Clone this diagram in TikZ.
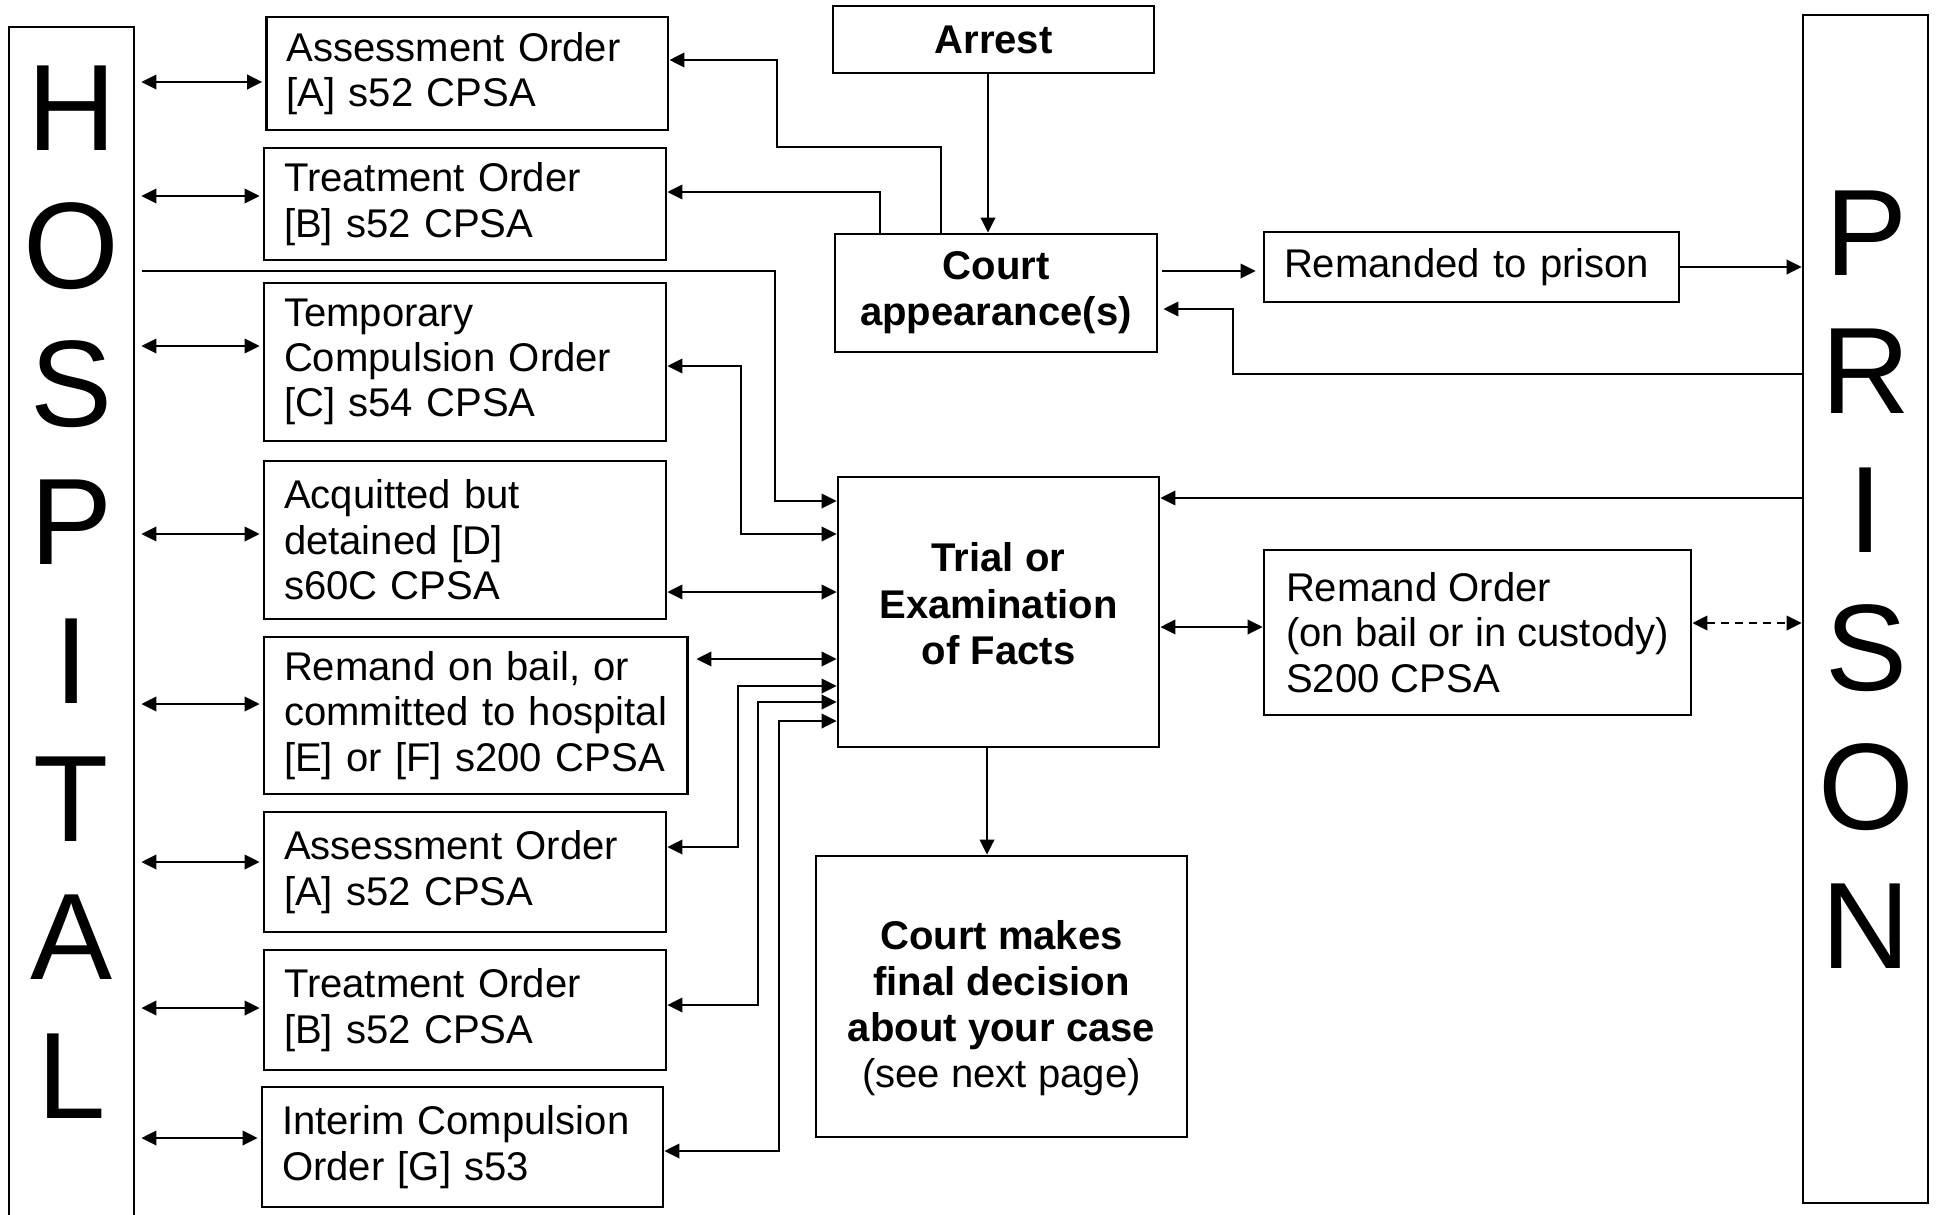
\documentclass[tikz,border=0pt]{standalone}
\usepackage{fontspec}
\setmainfont{Liberation Sans}
\usepackage{tikz}
\usetikzlibrary{arrows.meta,positioning,calc}
\newcommand{\boxfont}{\fontsize{11.4}{12.9}\selectfont}
\tikzstyle{arrow} = [-{Triangle[length=1.5mm,width=1.45mm]}, line width=0.65pt]
\tikzstyle{twoway} = [{Triangle[length=1.5mm,width=1.45mm]}-{Triangle[length=1.5mm,width=1.45mm]}, line width=0.65pt]
\tikzstyle{order} = [draw, line width=0.8pt, align=left, inner xsep=0.2cm, inner ysep=0pt, text width=3.62cm]
\tikzstyle{stage} = [draw, line width=0.8pt, align=center, inner sep=0pt, font=\fontsize{11.4}{13.1}\selectfont\bfseries]
\tikzstyle{side} = [draw, line width=0.8pt, minimum width=1.25cm, inner sep=0pt]
\tikzstyle{bigletter} = [font=\fontsize{35}{40}\selectfont, anchor=base, inner sep=0pt]

\begin{document}
\begin{tikzpicture}[font=\boxfont]
\clip (0,0) rectangle (19.38,12.14);

\node[side, minimum height=12.37cm] (hosp) at (0.715,5.685) {};
\node[side, minimum height=11.88cm] (prison) at (18.655,6.05) {};
\foreach \l [count=\i from 0] in {H,O,S,P,I,T,A,L}{
  \node[bigletter] (hospltr\i) at (0.715,{10.64-1.383*\i}) {\l};
}
\foreach \l [count=\i from 0] in {P,R,I,S,O,N}{
  \node[bigletter] (prisltr\i) at (18.66,{9.39-1.386*\i}) {\l};
}

\node[order, text width=3.615cm, minimum height=1.13cm] (asmtA) at (4.673,11.405) {Assessment Order\\{}[A] s52 CPSA};
\node[order, minimum height=1.12cm] (treatB) at (4.65,10.10) {Treatment Order\\{}[B] s52 CPSA};
\node[order, minimum height=1.58cm] (tempC) at (4.65,8.52) {Temporary\\Compulsion Order\\{}[C] s54 CPSA};
\node[order, minimum height=1.58cm] (acqD) at (4.65,6.74) {Acquitted but\\detained [D]\\s60C CPSA};
\node[order, text width=3.835cm, minimum height=1.57cm] (remE) at (4.7575,4.985) {Remand on bail, or\\committed to hospital\\{}[E] or [F] s200 CPSA};
\node[order, minimum height=1.20cm] (asmtA2) at (4.65,3.42) {Assessment Order\\{}[A] s52 CPSA};
\node[order, minimum height=1.20cm] (treatB2) at (4.65,2.04) {Treatment Order\\{}[B] s52 CPSA};
\node[order, text width=3.61cm, minimum height=1.20cm] (interimG) at (4.625,0.67) {Interim Compulsion\\Order [G] s53};

\node[stage, minimum width=3.21cm, minimum height=0.67cm] (arrest) at (9.935,11.745) {Arrest};
\node[stage, minimum width=3.22cm, minimum height=1.18cm] (court) at (9.96,9.21) {Court\\appearance(s)};
\node[stage, minimum width=3.21cm, minimum height=2.70cm] (trial) at (9.985,6.02) {Trial or\\Examination\\of Facts\rule[-0.17cm]{0pt}{0.17cm}};
\node[stage, minimum width=3.71cm, minimum height=2.81cm] (final) at (10.015,2.175) {\rule{0pt}{0.52cm}Court makes\\final decision\\about your case\\\textmd{(see next page)}};
\node[order, text width=3.75cm, minimum height=0.70cm] (remanded) at (14.715,9.47) {Remanded to prison};
\node[draw, line width=0.8pt, align=left, inner sep=0pt, minimum width=4.27cm, minimum height=1.65cm] (remOrder) at (14.775,5.815) {Remand Order\\(on bail or in custody)\\S200 CPSA};

\foreach \n/\dy in {asmtA/-0.085,treatB/0.08,tempC/0.16,acqD/0.06,remE/0.115,asmtA2/0.10,treatB2/0.02,interimG/0.09}{
  \draw[twoway, shorten <=0.06cm, shorten >=0.03cm] ($(hosp.east |- \n.west)+(0,\dy)$) -- ($(\n.west)+(0,\dy)$);
}

\coordinate (arrdown) at ([xshift=-0.055cm]arrest.south);
\draw[arrow] (arrdown) -- (arrdown |- court.north);
\draw[arrow] ([xshift=-0.55cm]court.north) |- (7.77,10.67) |- ([yshift=0.135cm]asmtA.east);
\draw[arrow] ([xshift=-1.16cm]court.north) |- ([yshift=0.12cm]treatB.east);
\draw[arrow, shorten <=0.07cm] (hosp.east |- 0,9.43) -| (7.75,7.13) -- (trial.west |- 0,7.13);
\draw[twoway] ([yshift=-0.04cm]tempC.east) -| (7.41,6.80) -- (trial.west |- 0,6.80);
\coordinate (dport) at ([yshift=-0.52cm]acqD.east);
\draw[twoway] (dport) -- (dport -| trial.west);
\coordinate (eport) at ([yshift=0.565cm]remE.east);
\draw[twoway, shorten <=0.075cm] (eport) -- (eport -| trial.west);
\draw[twoway] ([yshift=0.25cm]asmtA2.east) -| (7.38,5.28) -- (trial.west |- 0,5.28);
\draw[twoway] ([yshift=0.05cm]treatB2.east) -| (7.58,5.12) -- (trial.west |- 0,5.12);
\draw[twoway] ([yshift=-0.04cm]interimG.east) -| (7.79,4.93) -- (trial.west |- 0,4.93);

\coordinate (cport) at ([yshift=0.22cm]court.east);
\draw[arrow, shorten <=0.04cm, shorten >=0.07cm] (cport) -- (cport -| remanded.west);
\draw[arrow] (remanded.east) -- (remanded.east -| prison.west);
\draw[arrow, shorten >=0.05cm] (prison.west |- 0,8.40) -| (12.33,9.05) -- (court.east |- 0,9.05);
\draw[arrow] (prison.west |- 0,7.16) -- (trial.east |- 0,7.16);
\draw[twoway] (trial.east |- 0,5.87) -- (remOrder.west |- 0,5.87);
\draw[twoway, dash pattern=on 0.8mm off 0.6mm] (remOrder.east |- 0,5.91) -- (prison.west |- 0,5.91);
\coordinate (tdown) at ([xshift=-0.115cm]trial.south);
\draw[arrow] (tdown) -- (tdown |- final.north);
\end{tikzpicture}
\end{document}
